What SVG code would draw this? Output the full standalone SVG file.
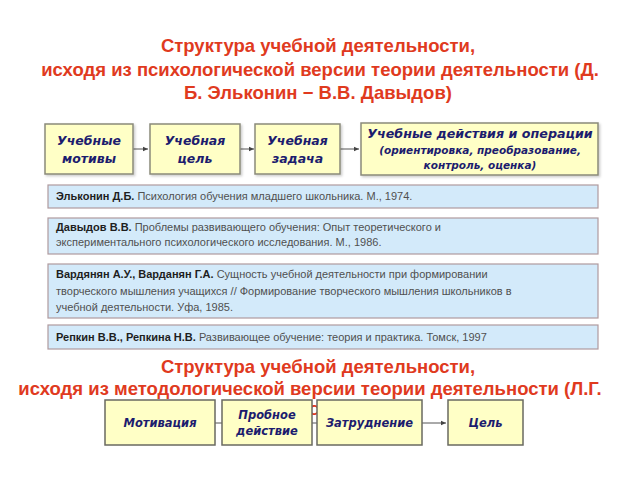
<svg xmlns="http://www.w3.org/2000/svg" width="640" height="480" viewBox="0 0 640 480">
<defs>
<marker id="ah" markerWidth="6" markerHeight="6" refX="5" refY="3" orient="auto" markerUnits="userSpaceOnUse">
<path d="M0,0.8 L5,3 L0,5.2 z" fill="#444"/>
</marker>
<filter id="sh" x="-10%" y="-10%" width="130%" height="140%">
<feDropShadow dx="1.5" dy="1.5" stdDeviation="1" flood-color="#000" flood-opacity="0.2"/>
</filter>
<style>
.title{font-family:"Liberation Sans",Arial,sans-serif;font-weight:bold;font-size:18.5px;fill:#e03a1e;text-anchor:middle}
.frag{font-family:"Liberation Sans",Arial,sans-serif;font-weight:bold;font-size:14px;fill:#e03a1e;text-anchor:middle}
.ybox{fill:#ffffc6;stroke:#8a8a7a;stroke-width:1.5}
.ybox2{fill:#ffffc6;stroke:#6a6a60;stroke-width:1.5}
.lbl{font-family:"DejaVu Sans",Verdana,sans-serif;font-weight:bold;font-style:italic;font-size:12.5px;fill:#1c1c6e;text-anchor:middle}
.lbl4{font-family:"DejaVu Sans",Verdana,sans-serif;font-weight:bold;font-style:italic;font-size:12.7px;fill:#1c1c6e;text-anchor:middle}
.lbls{font-family:"DejaVu Sans",Verdana,sans-serif;font-weight:bold;font-style:italic;font-size:10.5px;fill:#1c1c6e;text-anchor:middle}
.lbl2{font-family:"DejaVu Sans",Verdana,sans-serif;font-weight:bold;font-style:italic;font-size:11.5px;fill:#1c1c6e;text-anchor:middle}
.bbox{fill:#d3eafa;stroke:#b09a9e;stroke-width:1.2}
.ref{font-family:"Liberation Sans",Arial,sans-serif;font-size:11px;fill:#505050}
.ref tspan.b{font-weight:bold;fill:#1e1e1e}
.conn{stroke:#555;stroke-width:1;fill:none}
</style>
</defs>
<rect width="640" height="480" fill="#ffffff"/>

<g id="title1">
<text class="title" x="318" y="52">Структура учебной деятельности,</text>
<text class="title" x="320" y="76">исходя из психологической версии теории деятельности (Д.</text>
<text class="title" x="318" y="99">Б. Эльконин  − В.В. Давыдов)</text>
</g>

<g id="connectors">
<line class="conn" x1="133" y1="149" x2="148" y2="149" marker-end="url(#ah)"/>
<line class="conn" x1="240" y1="149" x2="254" y2="149" marker-end="url(#ah)"/>
<line class="conn" x1="340" y1="149" x2="359" y2="149" marker-end="url(#ah)"/>
<line class="conn" x1="215" y1="423" x2="222" y2="423"/>
<line class="conn" x1="312" y1="423" x2="317" y2="423"/>
<line class="conn" x1="422" y1="423" x2="446" y2="423" marker-end="url(#ah)"/>
</g>

<g id="node-motives">
<rect class="ybox" x="45" y="124" width="88" height="50" filter="url(#sh)"/>
<text class="lbl" x="89" y="145">Учебные</text>
<text class="lbl" x="89" y="163">мотивы</text>
</g>
<g id="node-goal">
<rect class="ybox" x="150" y="124" width="90" height="50" filter="url(#sh)"/>
<text class="lbl" x="195" y="145">Учебная</text>
<text class="lbl" x="195" y="163">цель</text>
</g>
<g id="node-task">
<rect class="ybox" x="255" y="124" width="85" height="50" filter="url(#sh)"/>
<text class="lbl" x="297.5" y="145">Учебная</text>
<text class="lbl" x="297.5" y="163">задача</text>
</g>
<g id="node-actions">
<rect class="ybox" x="361" y="123" width="237" height="52" filter="url(#sh)"/>
<text class="lbl4" x="480" y="138">Учебные действия и операции</text>
<text class="lbls" x="480" y="154">(ориентировка, преобразование,</text>
<text class="lbls" x="480" y="169">контроль, оценка)</text>
</g>

<g id="ref-elkonin">
<rect class="bbox" x="48" y="185" width="550" height="23"/>
<text class="ref" x="56" y="200"><tspan class="b">Эльконин Д.Б.</tspan> Психология обучения младшего школьника. М., 1974.</text>
</g>
<g id="ref-davydov">
<rect class="bbox" x="48" y="218" width="550" height="36"/>
<text class="ref" x="56" y="231"><tspan class="b">Давыдов В.В.</tspan> Проблемы развивающего обучения: Опыт теоретического и</text>
<text class="ref" x="56" y="246">экспериментального психологического исследования. М., 1986.</text>
</g>
<g id="ref-vardanyan">
<rect class="bbox" x="48" y="264" width="550" height="54"/>
<text class="ref" x="56" y="278"><tspan class="b">Вардянян А.У., Варданян Г.А.</tspan> Сущность учебной деятельности при формировании</text>
<text class="ref" x="56" y="295">творческого мышления учащихся // Формирование творческого мышления школьников в</text>
<text class="ref" x="56" y="311">учебной деятельности. Уфа, 1985.</text>
</g>
<g id="ref-repkin">
<rect class="bbox" x="48" y="325" width="550" height="24"/>
<text class="ref" x="56" y="341"><tspan class="b">Репкин В.В., Репкина Н.В.</tspan> Развивающее обучение: теория и практика. Томск, 1997</text>
</g>

<g id="title2">
<text class="title" x="318" y="373">Структура учебной деятельности,</text>
<text class="title" x="310" y="395">исходя из методологической версии теории деятельности (Л.Г.</text>
<text class="frag" x="314" y="415">С</text>
</g>

<g id="node-motivation">
<rect class="ybox2" x="105" y="400" width="110" height="45"/>
<text class="lbl2" x="160" y="427">Мотивация</text>
</g>
<g id="node-trial">
<rect class="ybox2" x="222" y="400" width="90" height="45"/>
<text class="lbl2" x="267" y="419">Пробное</text>
<text class="lbl2" x="267" y="435">действие</text>
</g>
<g id="node-difficulty">
<rect class="ybox2" x="317" y="400" width="105" height="45"/>
<text class="lbl2" x="369.5" y="427">Затруднение</text>
</g>
<g id="node-aim">
<rect class="ybox2" x="448" y="400" width="75" height="45"/>
<text class="lbl2" x="485.5" y="427">Цель</text>
</g>
</svg>
